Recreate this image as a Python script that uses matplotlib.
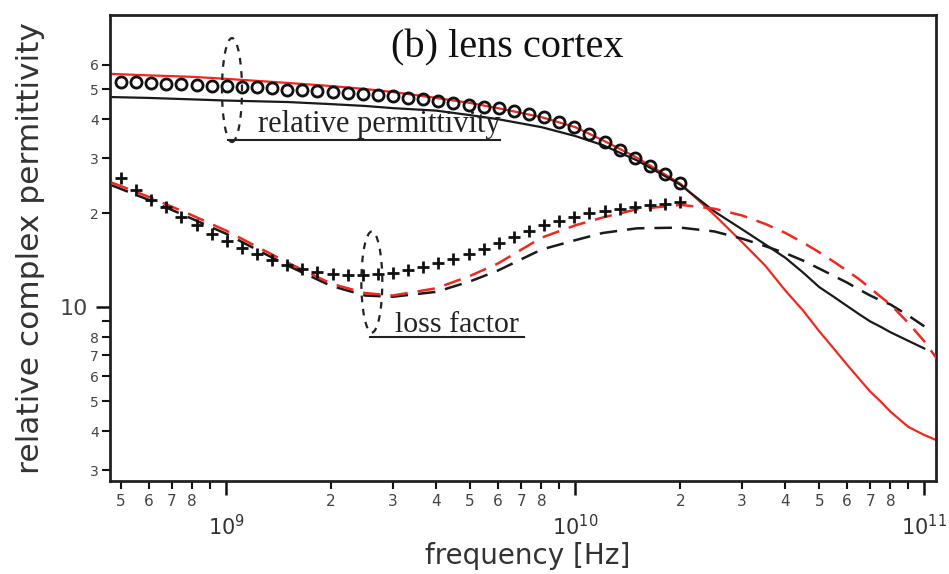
import matplotlib
matplotlib.use("Agg")
import matplotlib.pyplot as plt
from matplotlib.patches import Ellipse
from matplotlib.lines import Line2D
from matplotlib.ticker import FixedLocator, FixedFormatter

# ---------------- data (frequencies in GHz) ----------------
meas_freq_ghz = [0.500, 0.552, 0.610, 0.674, 0.745, 0.823, 0.909, 1.004, 1.109, 1.226,
                 1.354, 1.496, 1.653, 1.826, 2.018, 2.229, 2.463, 2.721, 3.006, 3.321,
                 3.669, 4.054, 4.479, 4.948, 5.467, 6.040, 6.673, 7.372, 8.145, 8.999,
                 9.942, 10.98, 12.14, 13.41, 14.81, 16.37, 18.08, 19.98]
meas_perm = [52.8, 52.6, 52.4, 52.0, 51.8, 51.6, 51.4, 51.2, 50.9, 50.7,
             50.3, 49.9, 49.6, 49.2, 49.0, 48.7, 48.3, 47.8, 47.4, 46.9,
             46.4, 45.9, 45.2, 44.5, 44.0, 43.4, 42.6, 41.6, 40.6, 39.2,
             37.8, 35.9, 33.8, 31.9, 30.2, 28.3, 26.7, 25.1]
meas_loss = [25.9, 23.8, 22.1, 20.9, 19.5, 18.3, 17.2, 16.3, 15.5, 14.8,
             14.2, 13.7, 13.3, 13.0, 12.8, 12.7, 12.7, 12.8, 12.9, 13.2,
             13.5, 13.9, 14.3, 14.8, 15.4, 16.1, 16.8, 17.6, 18.3, 18.9,
             19.5, 20.0, 20.4, 20.7, 21.0, 21.3, 21.5, 21.7]

model_freq_ghz = [0.47, 0.6, 0.8, 1, 1.5, 2, 2.5, 3, 4, 5, 6, 8, 10, 12, 15, 20,
                  25, 30, 35, 40, 45, 50, 55, 60, 65, 70, 75, 80, 90, 100, 110]
red_perm = [56.0, 55.4, 54.8, 54.0, 52.4, 51.2, 50.1, 49.0, 46.9, 45.2, 43.5, 40.7,
            37.8, 34.3, 30.2, 24.9, 19.8, 16.2, 13.6, 11.3, 9.74, 8.37, 7.37, 6.55,
            5.90, 5.36, 4.98, 4.62, 4.13, 3.89, 3.72]
red_loss = [25.1, 22.6, 19.7, 17.6, 13.9, 11.9, 11.1, 10.9, 11.5, 12.6, 13.8, 16.7,
            18.3, 19.4, 20.6, 21.3, 20.7, 19.7, 18.5, 17.3, 16.1, 15.0, 14.0, 13.1,
            12.3, 11.5, 10.8, 10.2, 8.9, 7.77, 6.70]
black_freq_ghz = [0.47, 0.6, 0.8, 1, 1.5, 2, 2.5, 3, 4, 5, 6, 8, 10, 12, 15, 20,
                  25, 30, 35, 40, 45, 50, 55, 60, 65, 70, 75, 80, 90, 100]
black_perm = [47.2, 46.9, 46.4, 46.0, 45.5, 44.8, 44.2, 43.5, 42.7, 41.3, 40.1, 37.8,
              35.4, 33.1, 29.6, 24.7, 20.3, 17.8, 15.9, 14.4, 12.9, 11.6, 10.8, 10.1,
              9.5, 9.0, 8.65, 8.31, 7.8, 7.37]
black_loss = [24.6, 22.1, 19.2, 17.2, 13.6, 11.7, 10.9, 10.8, 11.2, 12.1, 13.1, 15.3,
              16.4, 17.3, 17.9, 18.0, 17.5, 16.6, 15.7, 14.9, 14.1, 13.3, 12.6, 12.0,
              11.4, 10.9, 10.5, 10.2, 9.4, 8.68]

x_minor_ticks = [5e8, 6e8, 7e8, 8e8, 9e8,
                 2e9, 3e9, 4e9, 5e9, 6e9, 7e9, 8e9, 9e9,
                 2e10, 3e10, 4e10, 5e10, 6e10, 7e10, 8e10, 9e10]
x_minor_labels = ["5", "6", "7", "8", "",
                  "2", "3", "4", "5", "6", "7", "8", "",
                  "2", "3", "4", "5", "6", "7", "8", ""]
x_major_ticks = [1e9, 1e10, 1e11]
x_major_labels = [r"$10^{9}$", r"$10^{10}$", r"$10^{11}$"]
y_minor_ticks = [3, 4, 5, 6, 7, 8, 9, 20, 30, 40, 50, 60]
y_minor_labels = ["3", "4", "5", "6", "7", "8", "", "2", "3", "4", "5", "6"]
y_major_ticks = [10]
y_major_labels = ["10"]

# ---------------- figure ----------------
RED = "#f0281e"
fig = plt.figure(figsize=(9.49, 5.74), dpi=100)
ax = fig.add_axes([0.1159, 0.162, 0.8704, 0.8118])
ax.set_xscale("log")
ax.set_yscale("log")
ax.set_xlim(4.65e8, 1.08e11)
ax.set_ylim(2.77, 86.5)

G = 1e9
mf = [f * G for f in model_freq_ghz]
bf = [f * G for f in black_freq_ghz]
ms = [f * G for f in meas_freq_ghz]

ax.plot(mf, red_perm, color=RED, lw=1.6, zorder=2)
ax.plot(bf, black_perm, color="#1a1a1a", lw=1.6, zorder=2)
ax.plot(mf, red_loss, color=RED, lw=1.8, ls=(0, (7, 4)), zorder=3)
ax.plot(bf, black_loss, color="#1a1a1a", lw=1.8, ls=(0, (7, 4)), zorder=2.5)
ax.plot(ms, meas_perm, ls="none", marker="o", ms=8, mfc="none", mec="#111111",
        mew=2.0, zorder=4)
ax.plot(ms, meas_loss, ls="none", marker="+", ms=9, mec="#111111", mew=2.0, zorder=4)

# ticks
ax.xaxis.set_major_locator(FixedLocator(x_major_ticks))
ax.xaxis.set_major_formatter(FixedFormatter(x_major_labels))
ax.xaxis.set_minor_locator(FixedLocator(x_minor_ticks))
ax.xaxis.set_minor_formatter(FixedFormatter(x_minor_labels))
ax.yaxis.set_major_locator(FixedLocator(y_major_ticks))
ax.yaxis.set_major_formatter(FixedFormatter(y_major_labels))
ax.yaxis.set_minor_locator(FixedLocator(y_minor_ticks))
ax.yaxis.set_minor_formatter(FixedFormatter(y_minor_labels))

ax.tick_params(axis="both", which="major", direction="out", length=10, width=1.8,
               color="#111111")
ax.tick_params(axis="both", which="minor", direction="out", length=6, width=1.5,
               color="#111111", labelcolor="#444444")
ax.tick_params(axis="x", which="minor", labelsize=11, pad=3)
ax.tick_params(axis="x", which="major", labelsize=15, pad=14, labelcolor="#333333")
ax.tick_params(axis="y", which="minor", labelsize=10, pad=2)
ax.tick_params(axis="y", which="major", labelsize=16, pad=6, labelcolor="#444444")

for s in ax.spines.values():
    s.set_linewidth(2.0)
    s.set_color("#222222")

ax.set_xlabel("frequency [Hz]", fontsize=20, color="#333333")
ax.xaxis.set_label_coords(0.506, -0.13)
ax.set_ylabel("relative complex permittivity", fontsize=22.5, color="#333333")
ax.yaxis.set_label_coords(-0.079, 0.5)

serif = "Liberation Serif"
ax.text(0.481, 0.930, "(b) lens cortex", transform=ax.transAxes, ha="center",
        va="center", fontsize=29, family=serif, color="#111111")
ax.text(0.179, 0.749, "relative permittivity", transform=ax.transAxes, ha="left",
        va="baseline", fontsize=22, family=serif, color="#222222")
ax.text(0.345, 0.320, "loss factor", transform=ax.transAxes, ha="left",
        va="baseline", fontsize=21.5, family=serif, color="#222222")

# annotation ellipses and leader lines
ax.add_patch(Ellipse((0.1477, 0.839), 0.0242, 0.223, transform=ax.transAxes,
                     fill=False, ec="#222222", lw=1.6, ls=(0, (3, 3)), zorder=5))
ax.add_patch(Ellipse((0.317, 0.427), 0.0254, 0.217, transform=ax.transAxes,
                     fill=False, ec="#222222", lw=1.6, ls=(0, (3, 3)), zorder=5))
ax.add_line(Line2D([0.143, 0.472], [0.732, 0.732], transform=ax.transAxes,
                   color="#222222", lw=1.5))
ax.add_line(Line2D([0.315, 0.501], [0.309, 0.309], transform=ax.transAxes,
                   color="#222222", lw=1.5))

fig.savefig("out.png", dpi=100)
